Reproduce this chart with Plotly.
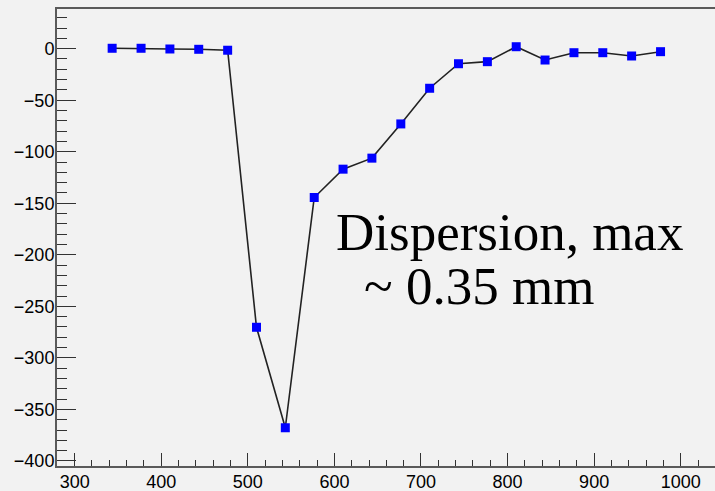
import plotly.graph_objects as go

x_vals = [343.3, 376.7, 410.0, 443.3, 476.7, 510.0, 543.3, 576.7, 610.0, 643.3,
          676.7, 710.0, 743.3, 776.7, 810.0, 843.3, 876.7, 910.0, 943.3, 976.7]
y_vals = [0.4, 0.4, -0.3, -0.6, -1.5, -270.3, -367.8, -144.4, -116.9, -106.2,
          -73.0, -38.4, -14.6, -12.6, 1.9, -11.0, -3.9, -3.9, -7.1, -2.9]
note_line1 = "Dispersion, max"
note_line2 = "~ 0.35 mm"

bg = "#f2f2f2"
axis_col = "#5a5a5a"

fig = go.Figure()
fig.add_trace(go.Scatter(
    x=x_vals, y=y_vals, mode="lines+markers",
    line=dict(color="#222222", width=1.6),
    marker=dict(symbol="square", size=9, color="#0000ff"),
    showlegend=False,
))

tickfont = dict(family="Liberation Sans, Arial, sans-serif", size=18, color="black")

fig.update_layout(
    width=715, height=491,
    margin=dict(l=57, r=0, t=9, b=25),
    paper_bgcolor=bg, plot_bgcolor=bg,
    xaxis=dict(
        range=[279.6, 1039.6], tick0=300, dtick=100,
        ticks="inside", ticklen=13, tickwidth=1.3, tickcolor="#333333",
        minor=dict(dtick=20, ticks="inside", ticklen=6, tickwidth=1.2, tickcolor="#333333"),
        showgrid=False, zeroline=False,
        showline=True, linecolor=axis_col, linewidth=2, mirror=True,
        tickfont=tickfont, ticklabelstandoff=-2,
    ),
    yaxis=dict(
        range=[-404.9, 38.5], tick0=0, dtick=50,
        ticks="inside", ticklen=19, tickwidth=1.3, tickcolor="#333333",
        minor=dict(dtick=10, ticks="inside", ticklen=10, tickwidth=1.2, tickcolor="#333333"),
        showgrid=False, zeroline=False,
        showline=True, linecolor=axis_col, linewidth=2,
        tickfont=tickfont, ticklabelstandoff=-3,
    ),
)

serif = dict(family="Liberation Serif, Times New Roman, serif", size=53, color="black")
fig.add_annotation(text=note_line1, xref="paper", yref="paper", x=0.4215, y=0.512,
                   xanchor="left", yanchor="middle", showarrow=False, font=serif)
fig.add_annotation(text=note_line2, xref="paper", yref="paper", x=0.4635, y=0.394,
                   xanchor="left", yanchor="middle", showarrow=False, font=serif)

fig.write_html("out.html")
